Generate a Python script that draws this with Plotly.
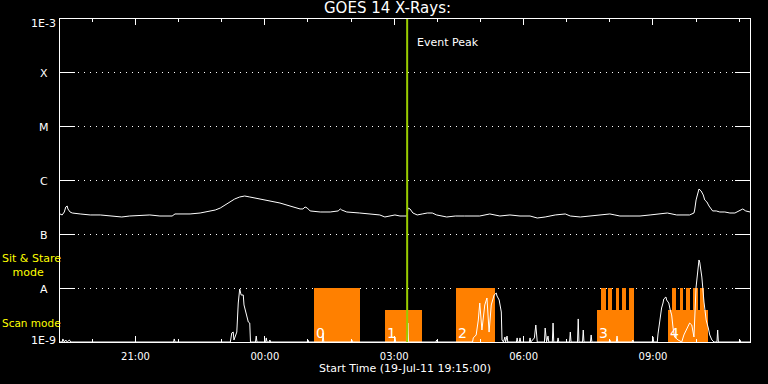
import math
import plotly.graph_objects as go
from datetime import datetime

# ---------------- data ----------------
start_label = "Start Time (19-Jul-11 19:15:00)"
x_range = ["19:15", "11:15"]

# GOES long channel (1-8 A), W/m^2
long_times = ["19:15","19:18","19:21","19:23","19:25","19:26","19:29","19:32","19:43","19:57",
              "20:11","20:25","20:41","20:52","21:09","21:20","21:34","21:51","21:55","22:16",
              "22:30","22:37","22:44","22:51","22:58","23:05","23:12","23:18","23:25","23:32",
              "23:39","23:46","23:53","00:07","00:21","00:35","00:49","00:53","00:56","00:59",
              "01:03","01:17","01:31","01:42","01:45","01:47","01:54","02:12","02:26","02:40",
              "02:47","02:54","03:01","03:08","03:15","03:18","03:19","03:22","03:26","03:32",
              "03:39","03:46","03:53","03:59","04:13","04:25","04:38","04:59","05:13","05:27",
              "05:41","05:55","06:09","06:19","06:30","06:44","06:58","07:05","07:19","07:32",
              "07:46","08:00","08:07","08:14","08:28","08:42","08:56","09:06","09:20","09:33",
              "09:51","09:57","09:58","10:00","10:01","10:03","10:04","10:07","10:10","10:12",
              "10:15","10:18","10:21","10:23","10:28","10:33","10:40","10:47","10:54","11:01",
              "11:05","11:09","11:15"]
long_flux = [2.39e-7,2.29e-7,2.60e-7,3.22e-7,3.36e-7,2.96e-7,2.60e-7,2.49e-7,2.39e-7,2.29e-7,
             2.29e-7,2.19e-7,2.10e-7,2.19e-7,2.29e-7,2.29e-7,2.19e-7,2.19e-7,2.39e-7,2.39e-7,
             2.49e-7,2.60e-7,2.72e-7,2.83e-7,3.08e-7,3.51e-7,3.99e-7,4.53e-7,4.94e-7,5.15e-7,
             4.94e-7,4.73e-7,4.53e-7,4.16e-7,3.82e-7,3.36e-7,2.96e-7,2.96e-7,3.22e-7,3.08e-7,
             2.72e-7,2.60e-7,2.60e-7,2.72e-7,2.96e-7,2.83e-7,2.60e-7,2.49e-7,2.39e-7,2.29e-7,
             2.10e-7,2.19e-7,2.29e-7,2.19e-7,2.19e-7,2.19e-7,3.08e-7,2.96e-7,2.49e-7,2.29e-7,
             2.39e-7,2.49e-7,2.49e-7,2.29e-7,2.10e-7,2.19e-7,2.19e-7,2.19e-7,2.39e-7,2.19e-7,
             2.29e-7,2.19e-7,2.19e-7,2.01e-7,2.10e-7,2.29e-7,2.39e-7,2.19e-7,2.10e-7,2.19e-7,
             2.29e-7,2.39e-7,2.29e-7,2.19e-7,2.19e-7,2.19e-7,2.29e-7,2.39e-7,2.49e-7,2.29e-7,
             2.29e-7,2.49e-7,2.83e-7,4.35e-7,4.94e-7,6.67e-7,6.95e-7,6.38e-7,5.38e-7,4.35e-7,
             3.99e-7,3.36e-7,2.96e-7,2.72e-7,2.72e-7,2.60e-7,2.60e-7,2.49e-7,2.49e-7,2.72e-7,
             2.96e-7,2.72e-7,2.60e-7]

# GOES short channel (0.5-4 A), W/m^2
short_times = ["19:15","19:18","19:19","19:21","19:23","19:25","19:28","19:30",
               "21:53","21:54","21:55",
               "23:12","23:14","23:16","23:17","23:21","23:23","23:24","23:25","23:27","23:30",
               "23:31","23:34","23:37","23:39","23:40",
               "23:47","23:48","23:49","00:01","00:02","00:03","00:06","00:07","00:08",
               "00:59","01:00","01:01","01:20","01:21","01:22","02:00","02:01","02:02",
               "03:00","03:01","03:02","03:18","03:19","03:20","03:58","03:59","04:00",
               "04:49","04:50","04:54","04:57","04:59","05:02","05:06","05:09","05:12","05:15",
               "05:19","05:22","05:23","05:26","05:29","05:30","05:32","05:34","05:35","05:37",
               "05:38","05:50","05:51","05:52","05:54","05:55","05:56","06:08","06:09","06:10",
               "06:15","06:17","06:19","06:29","06:30","06:32","06:34","06:35","06:40","06:41",
               "06:42","06:47","06:48","06:49","07:04","07:05","07:06","07:15","07:16","07:17",
               "07:22","07:23","07:24","07:33","07:34","07:35","07:59","08:00","08:01","08:09",
               "08:10","08:11","08:31","08:32","08:33","08:59","09:00","09:01","09:06","09:07",
               "09:10","09:12","09:14","09:15","09:18","09:19","09:21","09:22","09:24","09:26",
               "09:28","09:30","09:35","09:40","09:43","09:49","09:51","09:54","09:57","10:00",
               "10:03","10:04","10:05","10:08","10:11","10:12","10:14","10:17","10:19","10:22",
               "10:25","10:29","10:30","10:31","11:00","11:01","11:02","11:15"]
short_flux = [1e-9,1e-9,1.14e-9,1e-9,1.09e-9,1e-9,1.09e-9,1e-9,
              1e-9,1.14e-9,1e-9,
              1e-9,1.47e-9,1.53e-9,1.09e-9,1.53e-9,5.30e-9,6.85e-9,9.65e-9,7.47e-9,7.47e-9,
              4.87e-9,3.46e-9,2.35e-9,2.25e-9,1e-9,
              1e-9,1.29e-9,1e-9,1e-9,1.19e-9,1e-9,1e-9,1.09e-9,1e-9,
              1e-9,1.09e-9,1e-9,1e-9,1.47e-9,1e-9,1e-9,1.09e-9,1e-9,
              1e-9,1.24e-9,1e-9,1e-9,2.25e-9,1e-9,1e-9,1.09e-9,1e-9,
              1e-9,1.19e-9,1.35e-9,2.56e-9,5.30e-9,1.67e-9,4.87e-9,6.57e-9,1.53e-9,4.87e-9,
              7.47e-9,8.13e-9,7.15e-9,6.03e-9,3.61e-9,1.09e-9,1e-9,1.24e-9,1e-9,1.29e-9,
              1e-9,1e-9,1.19e-9,1e-9,1e-9,1.19e-9,1e-9,1e-9,1.19e-9,1e-9,
              1.19e-9,2.07e-9,1e-9,1e-9,1.82e-9,1e-9,1.29e-9,1e-9,1e-9,2.25e-9,
              1e-9,1e-9,1.19e-9,1e-9,1e-9,1.53e-9,1e-9,1e-9,2.68e-9,1e-9,
              1e-9,1.67e-9,1e-9,1e-9,1.35e-9,1e-9,1e-9,1.09e-9,1e-9,1e-9,
              1.29e-9,1e-9,1e-9,1.09e-9,1e-9,1e-9,1.24e-9,1e-9,1e-9,1.41e-9,
              2.79e-9,4.28e-9,5.30e-9,6.29e-9,6.85e-9,6.03e-9,5.53e-9,5.30e-9,3.93e-9,3.18e-9,
              1.82e-9,1.24e-9,1.09e-9,1e-9,1.35e-9,1.90e-9,2.25e-9,2.07e-9,1.24e-9,1.05e-8,
              2.18e-8,3.34e-8,3.06e-8,1.61e-8,5.53e-9,4.47e-9,2.56e-9,1.82e-9,1.35e-9,1.09e-9,
              1e-9,1e-9,1.67e-9,1e-9,1e-9,1.09e-9,1e-9,1e-9]

# Observation modes (orange blocks)
mode_starts = ["01:09", "02:47", "04:26", "07:42", "09:21"]
mode_ends   = ["02:13", "03:39", "05:20", "08:34", "10:17"]
mode_levels = [1e-8, 3.9e-9, 1e-8, 3.9e-9, 3.9e-9]
mode_labels = ["0", "1", "2", "3", "4"]
tooth_starts = ["07:48","07:58","08:08","08:17","08:27","09:27","09:37","09:46","09:56","10:06"]
tooth_ends   = ["07:54","08:03","08:13","08:23","08:34","09:32","09:42","09:52","10:02","10:11"]
tooth_level = 1e-8
base_level = 1e-10

event_peak = "03:18"

y_tick_vals = [1e-9, 1e-8, 1e-7, 1e-6, 1e-5, 1e-4, 1e-3]
y_tick_text = ["1E-9", "A", "B", "C", "M", "X", "1E-3"]

# ---------------- helpers ----------------
def to_dt(s):
    h, m = map(int, s.split(":"))
    day = 19 if h >= 19 else 20
    return datetime(2011, 7, day, h, m)

FONT = "DejaVu Sans"
ORANGE = "#ff8000"
GREEN = "#9acd00"

fig = go.Figure()

def add_blocks(starts, ends, levels):
    xs, ws, ys = [], [], []
    for s, e, lv in zip(starts, ends, levels):
        a, b = to_dt(s), to_dt(e)
        xs.append(a + (b - a) / 2)
        ws.append((b - a).total_seconds() * 1000)
        ys.append(lv - base_level)
    fig.add_trace(go.Bar(x=xs, y=ys, width=ws, base=base_level,
                         marker=dict(color=ORANGE, line=dict(width=0)),
                         showlegend=False, hoverinfo="skip"))

add_blocks(mode_starts, mode_ends, mode_levels)
add_blocks(tooth_starts, tooth_ends, [tooth_level] * len(tooth_starts))

fig.add_trace(go.Scatter(x=[to_dt(t) for t in long_times], y=long_flux, mode="lines",
                         line=dict(color="white", width=1), showlegend=False))
fig.add_trace(go.Scatter(x=[to_dt(t) for t in short_times], y=short_flux, mode="lines",
                         line=dict(color="white", width=1), showlegend=False))

# event peak line
fig.add_shape(type="line", x0=to_dt(event_peak), x1=to_dt(event_peak), xref="x",
              y0=0, y1=1, yref="paper", line=dict(color=GREEN, width=2))
fig.add_annotation(x=to_dt(event_peak), xref="x", y=0.926, yref="paper",
                   text="Event Peak", showarrow=False, xanchor="left", yanchor="middle",
                   xshift=8, font=dict(family=FONT, size=11, color="white"))

# mode numbers
for s, lab in zip(mode_starts, mode_labels):
    fig.add_annotation(x=to_dt(s), xref="x", y=0.028, yref="paper", text=lab,
                       showarrow=False, xanchor="left", yanchor="middle", xshift=0,
                       font=dict(family=FONT, size=14, color="white"))

# y tick labels (centred, like the original)
for v, t in zip(y_tick_vals, y_tick_text):
    shift = -4 if t == "1E-3" else (2 if t == "1E-9" else -1)
    fig.add_annotation(x=-0.0232, xref="paper", y=math.log10(v), yref="y", text=t,
                       showarrow=False, xanchor="center", yanchor="middle", yshift=shift,
                       font=dict(family=FONT, size=11, color="white"))

# mode legends in yellow
fig.add_annotation(x=-0.0870, xref="paper", y=0.238, yref="paper",
                   text="Sit & Stare<br>&nbsp;&nbsp;&nbsp;mode",
                   showarrow=False, xanchor="left", yanchor="middle", align="left",
                   font=dict(family=FONT, size=11, color="#ffff00"))
fig.add_annotation(x=-0.0870, xref="paper", y=0.0588, yref="paper", text="Scan mode",
                   showarrow=False, xanchor="left", yanchor="middle",
                   font=dict(family=FONT, size=10.5, color="#ffff00"))

# title and x label
fig.add_annotation(x=0.475, xref="paper", y=1.034, yref="paper", text="GOES 14 X-Rays:",
                   showarrow=False, xanchor="center", yanchor="middle",
                   font=dict(family=FONT, size=15, color="white"))
fig.add_annotation(x=0.5, xref="paper", y=-0.0805, yref="paper", text=start_label,
                   showarrow=False, xanchor="center", yanchor="middle",
                   font=dict(family=FONT, size=11, color="white"))

fig.update_layout(
    width=768, height=384,
    margin=dict(l=60, r=18, t=19, b=42),
    paper_bgcolor="black", plot_bgcolor="black",
    barmode="overlay", bargap=0,
    showlegend=False,
    font=dict(family=FONT, color="white", size=10),
    xaxis=dict(
        type="date",
        range=[to_dt(x_range[0]), to_dt(x_range[1])],
        tick0=to_dt("21:00"), dtick=3 * 3600 * 1000, tickformat="%H:%M",
        ticks="inside", ticklen=6, tickcolor="white", tickwidth=1,
        minor=dict(dtick=3600 * 1000, tick0=to_dt("21:00"), ticks="inside",
                   ticklen=3, tickcolor="white", tickwidth=1, showgrid=False),
        showline=True, linecolor="white", linewidth=1, mirror="ticks",
        showgrid=False, zeroline=False,
        tickfont=dict(family=FONT, size=10, color="white"),
        ticklabelstandoff=5,
    ),
    yaxis=dict(
        type="log", range=[-9, -3],
        tickvals=y_tick_vals[1:-1],
        showticklabels=False,
        ticks="inside", ticklen=15, tickcolor="white", tickwidth=1,
        showline=True, linecolor="white", linewidth=1, mirror="ticks",
        showgrid=True, gridcolor="white", gridwidth=1, griddash="1px,5px",
        zeroline=False,
    ),
)

fig.write_html("out.html", config={"displayModeBar": False},
               post_script="document.body.style.margin='0';document.body.style.background='black';")
